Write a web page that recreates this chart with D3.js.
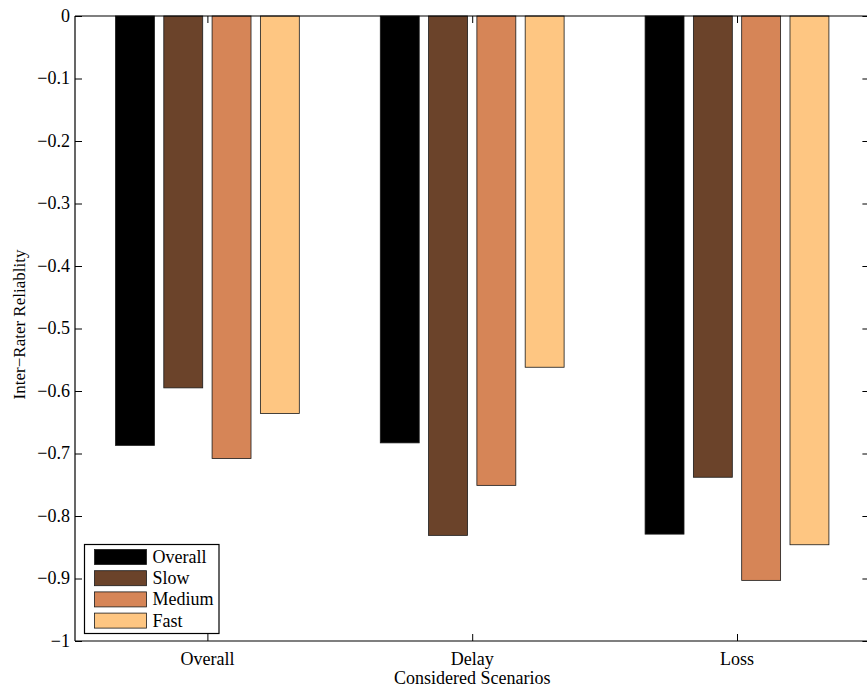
<!DOCTYPE html>
<html>
<head>
<meta charset="utf-8">
<script src="https://cdn.jsdelivr.net/npm/d3@7"></script>
<style>
  html, body { margin: 0; padding: 0; background: #fff; }
  svg { display: block; }
  svg text { font-family: "Liberation Serif", "Times New Roman", Times, "DejaVu Serif", serif; fill: #000; }
</style>
</head>
<body>
<svg id="chart" width="867" height="692"></svg>
<script>
// Scenario groups and rater series
const scenarios = ["Overall", "Delay", "Loss"];
const seriesNames = ["Overall", "Slow", "Medium", "Fast"];
const seriesColors = ["#000000", "#6b432a", "#d68557", "#fec682"];

// Inter-rater reliability per series, one entry per scenario
const overallValues = [-0.687, -0.683, -0.829];
const slowValues    = [-0.595, -0.831, -0.738];
const mediumValues  = [-0.708, -0.751, -0.903];
const fastValues    = [-0.636, -0.562, -0.846];
const seriesValues = [overallValues, slowValues, mediumValues, fastValues];

const yTicks = [0, -0.1, -0.2, -0.3, -0.4, -0.5, -0.6, -0.7, -0.8, -0.9, -1];
const yTickLabels = ["0", "\u22120.1", "\u22120.2", "\u22120.3", "\u22120.4", "\u22120.5",
                     "\u22120.6", "\u22120.7", "\u22120.8", "\u22120.9", "\u22121"];

const serif = "'Liberation Serif', 'Times New Roman', Times, 'DejaVu Serif', serif";
const fontSize = 18;

const svg = d3.select("#chart");
const plotLeft = 75, plotTop = 16, plotBottom = 641;
const slot = 264.8;                 // pixels per group slot
const plotRight = plotLeft + 3 * slot;

// Group positions 1..3 on a [0.5, 3.5] domain
const x = d3.scaleLinear().domain([0.5, 3.5]).range([plotLeft, plotRight]);
const y = d3.scaleLinear().domain([0, -1]).range([plotTop, plotBottom]);

const pitch = 0.1824;   // distance between bars within a group
const barW = 0.147;     // bar width in group units

// Bars
seriesValues.forEach((vals, s) => {
  const off = (s - 1.5) * pitch;
  svg.append("g").selectAll("rect")
    .data(vals)
    .join("rect")
    .attr("x", (d, i) => x(i + 1 + off - barW / 2))
    .attr("y", y(0))
    .attr("width", x(barW) - x(0))
    .attr("height", d => y(d) - y(0))
    .attr("fill", seriesColors[s])
    .attr("stroke", "#1a1a1a")
    .attr("stroke-width", 0.8);
});

// Axes box
const axisG = svg.append("g").attr("stroke", "#000").attr("stroke-width", 1.2);
axisG.append("line").attr("x1", plotLeft).attr("x2", plotLeft).attr("y1", plotTop).attr("y2", plotBottom);
axisG.append("line").attr("x1", plotLeft).attr("x2", plotRight).attr("y1", plotTop).attr("y2", plotTop);
axisG.append("line").attr("x1", plotLeft).attr("x2", plotRight).attr("y1", plotBottom).attr("y2", plotBottom);
axisG.append("line").attr("x1", plotRight).attr("x2", plotRight).attr("y1", plotTop).attr("y2", plotBottom);

// Left y axis with inward ticks
const yAxis = d3.axisRight(y).tickValues(yTicks).tickSize(7).tickFormat("");
const yg = svg.append("g").attr("transform", `translate(${plotLeft},0)`).call(yAxis);
yg.select(".domain").remove();
yg.selectAll(".tick line").attr("stroke", "#000").attr("stroke-width", 1);

// Right y axis ticks pointing inward
const yAxisR = d3.axisLeft(y).tickValues(yTicks).tickSize(7).tickFormat("");
const ygr = svg.append("g").attr("transform", `translate(${plotRight},0)`).call(yAxisR);
ygr.select(".domain").remove();
ygr.selectAll(".tick line").attr("stroke", "#000").attr("stroke-width", 1);

// Y tick labels
svg.append("g").selectAll("text")
  .data(yTicks)
  .join("text")
  .attr("x", plotLeft - 5)
  .attr("y", d => y(d))
  .attr("dy", "0.33em")
  .attr("text-anchor", "end")
  .attr("font-family", serif)
  .attr("font-size", fontSize)
  .text((d, i) => yTickLabels[i]);

// Bottom x axis with inward ticks
const xAxis = d3.axisTop(x).tickValues([1, 2, 3]).tickSize(7).tickFormat("");
const xg = svg.append("g").attr("transform", `translate(0,${plotBottom})`).call(xAxis);
xg.select(".domain").remove();
xg.selectAll(".tick line").attr("stroke", "#000").attr("stroke-width", 1);

// Top x ticks pointing inward
const xAxisT = d3.axisBottom(x).tickValues([1, 2, 3]).tickSize(7).tickFormat("");
const xgt = svg.append("g").attr("transform", `translate(0,${plotTop})`).call(xAxisT);
xgt.select(".domain").remove();
xgt.selectAll(".tick line").attr("stroke", "#000").attr("stroke-width", 1);

// X tick labels
svg.append("g").selectAll("text")
  .data(scenarios)
  .join("text")
  .attr("x", (d, i) => x(i + 1))
  .attr("y", 665)
  .attr("text-anchor", "middle")
  .attr("font-family", serif)
  .attr("font-size", fontSize)
  .text(d => d);

// Axis titles
svg.append("text")
  .attr("x", x(2))
  .attr("y", 684)
  .attr("text-anchor", "middle")
  .attr("font-family", serif)
  .attr("font-size", fontSize)
  .text("Considered Scenarios");

svg.append("text")
  .attr("transform", `translate(25,${(plotTop + plotBottom) / 2 - 4}) rotate(-90)`)
  .attr("text-anchor", "middle")
  .attr("font-family", serif)
  .attr("font-size", 17)
  .text("Inter\u2212Rater Reliablity");

// Legend
const lg = svg.append("g").attr("transform", "translate(84.5,544.5)");
lg.append("rect")
  .attr("width", 134.5).attr("height", 89)
  .attr("fill", "#fff").attr("stroke", "#000").attr("stroke-width", 1.2);
seriesNames.forEach((name, i) => {
  const cy = 12.5 + i * 21.2;
  lg.append("rect")
    .attr("x", 10).attr("y", cy - 7.5)
    .attr("width", 52).attr("height", 15)
    .attr("fill", seriesColors[i])
    .attr("stroke", "#1a1a1a").attr("stroke-width", 0.8);
  lg.append("text")
    .attr("x", 68).attr("y", cy)
    .attr("dy", "0.33em")
    .attr("font-family", serif)
    .attr("font-size", fontSize)
    .text(name);
});
</script>
</body>
</html>
